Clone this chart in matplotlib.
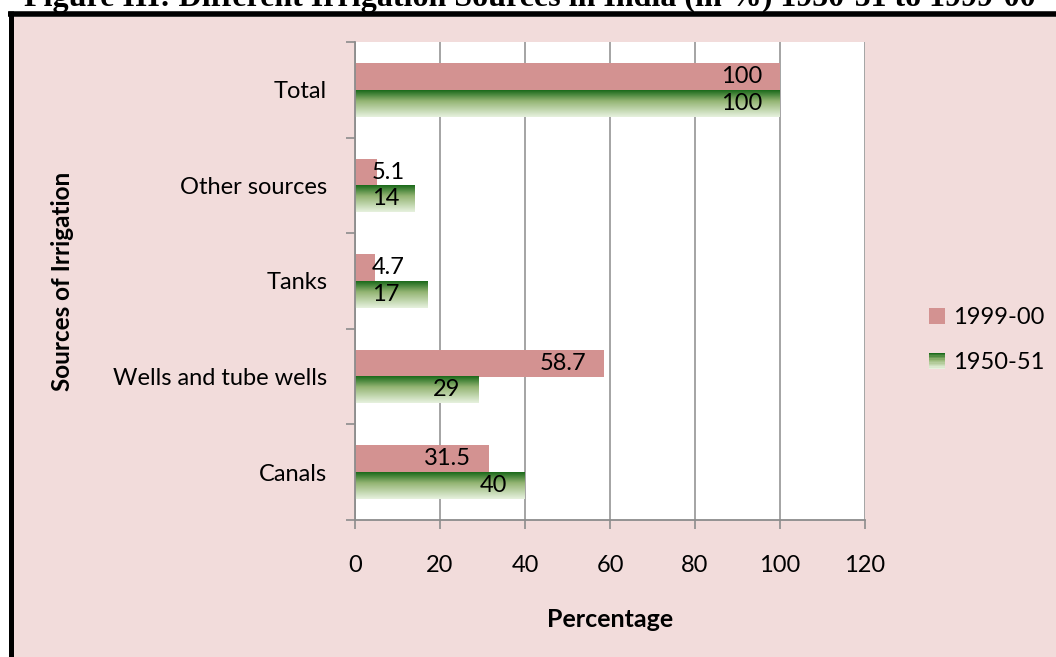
"""Different irrigation sources in India, 1950-51 vs 1999-00"""

import matplotlib
matplotlib.use('Agg')
import matplotlib.pyplot as plt
import numpy as np
from matplotlib.colors import LinearSegmentedColormap
from matplotlib.legend_handler import HandlerBase
from matplotlib.patches import Rectangle
from matplotlib.lines import Line2D

categories = ['Canals', 'Wells and tube wells', 'Tanks', 'Other sources', 'Total']
share_1999 = [31.5, 58.7, 4.7, 5.1, 100]
share_1950 = [40, 29, 17, 14, 100]
label_1999 = ['31.5', '58.7', '4.7', '5.1', '100']
label_1950 = ['40', '29', '17', '14', '100']
xticks = [0, 20, 40, 60, 80, 100, 120]

pink = '#d39291'
bg = '#f2dcdb'
grid_col = '#8c8c8c'
greens = LinearSegmentedColormap.from_list(
    'greens', [(0, '#1b6a1b'), (0.4, '#93b472'), (1, '#e6f1de')])
grad = np.linspace(0, 1, 64).reshape(-1, 1)

plt.rcParams['font.family'] = ['Lato', 'DejaVu Sans']
fs = 17

fig = plt.figure(figsize=(10.56, 6.57), dpi=100, facecolor='white')
W, H = 1056, 657

# pink panel with black frame on top and left
fig.add_artist(Rectangle((13 / W, 0), 1, 1 - 16.5 / H, transform=fig.transFigure,
                         facecolor=bg, edgecolor='none', zorder=-5))
fig.add_artist(Line2D([8 / W, 1], [1 - 13.75 / H, 1 - 13.75 / H], transform=fig.transFigure,
                      color='black', lw=4, solid_capstyle='butt'))
fig.add_artist(Line2D([10.5 / W, 10.5 / W], [0, 1 - 11 / H], transform=fig.transFigure,
                      color='black', lw=3.6, solid_capstyle='butt'))

# title is partly above the page edge, as in the source scan
fig.text(530 / W, 1 - 6 / H,
         'Figure III: Different Irrigation Sources in India (in %) 1950-51 to 1999-00',
         ha='center', va='baseline', fontsize=23, fontweight='bold',
         family='Liberation Serif')

ax = fig.add_axes([355 / W, 1 - 520 / H, 510 / W, 478 / H])
ax.set_facecolor('white')

y = np.arange(len(categories))
h = 0.28

ax.barh(y + h / 2, share_1999, height=h, color=pink, zorder=2)
for yi, v in zip(y, share_1950):
    ax.imshow(grad, extent=[0, v, yi - h, yi], aspect='auto', cmap=greens,
              origin='upper', zorder=2, interpolation='bilinear')


def put_label(v, yc, txt):
    if v < 20:
        ax.annotate(txt, (0, yc), xytext=(12, 0), textcoords='offset points',
                    ha='left', va='center', fontsize=fs, zorder=3)
    else:
        ax.annotate(txt, (v, yc), xytext=(-13, 0), textcoords='offset points',
                    ha='right', va='center', fontsize=fs, zorder=3)


for yi, v, t in zip(y, share_1999, label_1999):
    put_label(v, yi + h / 2, t)
for yi, v, t in zip(y, share_1950, label_1950):
    put_label(v, yi - h / 2, t)

ax.set_xlim(0, 120)
ax.set_ylim(-0.5, len(categories) - 0.5)
ax.set_xticks(xticks)
ax.set_xticklabels([str(t) for t in xticks], fontsize=fs)
ax.set_yticks(y)
ax.set_yticklabels(categories, fontsize=fs)
ax.set_yticks(np.arange(-0.5, len(categories), 1), minor=True)
ax.tick_params(axis='y', which='major', length=0, pad=20)
ax.tick_params(axis='y', which='minor', length=6.5, width=1.2, color=grid_col)
ax.tick_params(axis='x', length=6.5, width=1.2, color=grid_col, pad=19)

ax.grid(axis='x', color=grid_col, lw=1.1)
ax.set_axisbelow(True)
for side in ['top', 'right']:
    ax.spines[side].set_visible(False)
for side in ['left', 'bottom']:
    ax.spines[side].set_color(grid_col)
    ax.spines[side].set_linewidth(1.3)

ax.set_xlabel('Percentage', fontsize=18, fontweight='bold', labelpad=23)
ax.set_ylabel('Sources of Irrigation', fontsize=17.5, fontweight='bold')
ax.yaxis.set_label_coords(-0.55, 0.5)


class GradientHandler(HandlerBase):
    def create_artists(self, legend, orig, xd, yd, width, height, fontsize, trans):
        n = 12
        out = []
        for k in range(n):
            out.append(Rectangle((xd, yd + height * (n - k - 1) / n), width, height / n,
                                 facecolor=greens(k / (n - 1)), edgecolor='none',
                                 transform=trans))
        return out


pink_patch = Rectangle((0, 0), 1, 1, facecolor=pink)
green_patch = Rectangle((0, 0), 1, 1, facecolor='#98b877')
fig.legend([pink_patch, green_patch], ['1999-00', '1950-51'],
           handler_map={green_patch: GradientHandler()},
           loc='center left', bbox_to_anchor=(929 / W, 1 - 340 / H),
           borderpad=0, borderaxespad=0,
           frameon=False, fontsize=fs, handlelength=0.68, handleheight=0.68,
           handletextpad=0.34, labelspacing=1.0)

fig.savefig('out.png', dpi=100, facecolor=fig.get_facecolor())
